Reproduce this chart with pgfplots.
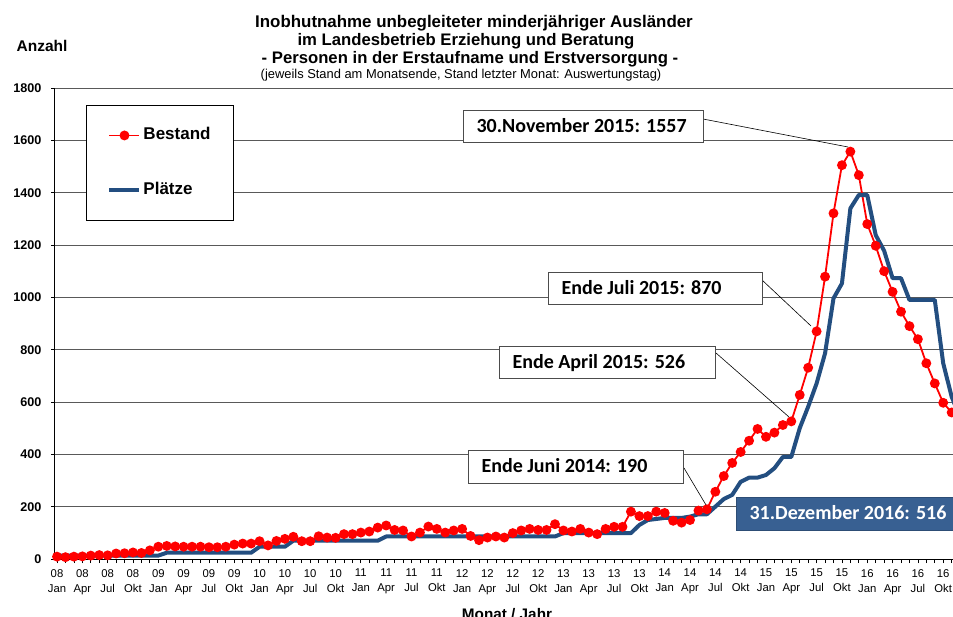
\documentclass[border=0pt]{standalone}
\usepackage{fontspec}
\setmainfont{Liberation Sans}
\newfontfamily\carlito{Carlito}
\usepackage{pgfplots}
\pgfplotsset{compat=1.18}
\usepackage{pgfplotstable}
\definecolor{plaetze}{RGB}{35,78,128}
\definecolor{boxblue}{RGB}{56,96,146}

\pgfplotstableread{
m bestand plaetze
0 9 13
1 7 13
2 9 13
3 10 13
4 13 13
5 15 13
6 14 13
7 21 13
8 22 13
9 25 13
10 23 13
11 33 13
12 47 13
13 50 24
14 48 24
15 47 24
16 47 24
17 47 24
18 45 24
19 45 24
20 47 24
21 55 24
22 59 24
23 59 24
24 68 47
25 52 47
26 69 47
27 77 47
28 85 70
29 68 70
30 68 70
31 87 70
32 82 70
33 81 70
34 95 70
35 95 70
36 101 70
37 105 70
38 120 70
39 128 86
40 111 86
41 109 86
42 86 86
43 101 86
44 124 86
45 115 86
46 101 86
47 109 86
48 115 86
49 88 86
50 72 86
51 82 86
52 86 86
53 82 86
54 99 86
55 109 86
56 115 86
57 111 86
58 111 86
59 133 86
60 109 99
61 105 99
62 115 99
63 101 99
64 95 99
65 115 99
66 123 99
67 123 99
68 181 99
69 164 130
70 164 149
71 181 153
72 176 157
73 146 157
74 139 157
75 149 162
76 185 171
77 190 171
78 257 200
79 317 229
80 367 245
81 409 295
82 452 311
83 497 311
84 467 321
85 483 347
86 512 390
87 526 390
88 627 500
89 731 582
90 870 671
91 1079 786
92 1321 996
93 1505 1053
94 1557 1340
95 1467 1391
96 1280 1391
97 1197 1238
98 1100 1178
99 1021 1073
100 945 1073
101 890 990
102 840 990
103 748 990
104 671 990
105 597 748
106 560 620
107 516 540
}\datatable

\begin{document}
\begin{tikzpicture}[x=1pt,y=1pt]
\useasboundingbox (0,0) rectangle (953,616);
\begin{axis}[
  at={(55pt,57pt)}, anchor=south west,
  scale only axis, width=898pt, height=471pt,
  xmin=-0.24, xmax=106.16, ymin=0, ymax=1800,
  axis x line=bottom, axis y line=left,
  axis line style={-, black, line width=1pt},
  xtick={0,3,...,105},
  minor xtick={0,1,...,106},
  xticklabels={{08\\Jan},{08\\Apr},{08\\Jul},{08\\Okt},
               {09\\Jan},{09\\Apr},{09\\Jul},{09\\Okt},
               {10\\Jan},{10\\Apr},{10\\Jul},{10\\Okt},
               {11\\Jan},{11\\Apr},{11\\Jul},{11\\Okt},
               {12\\Jan},{12\\Apr},{12\\Jul},{12\\Okt},
               {13\\Jan},{13\\Apr},{13\\Jul},{13\\Okt},
               {14\\Jan},{14\\Apr},{14\\Jul},{14\\Okt},
               {15\\Jan},{15\\Apr},{15\\Jul},{15\\Okt},
               {16\\Jan},{16\\Apr},{16\\Jul},{16\\Okt}},
  xticklabel style={font=\fontsize{11.3}{15}\selectfont, align=center, inner sep=1pt, yshift=-5pt},
  ytick={0,200,...,1800},
  yticklabel style={font=\bfseries\fontsize{12.6}{15}\selectfont, xshift=-6pt},
  /pgf/number format/assume math mode=true,
  /pgf/number format/1000 sep={},
  ymajorgrids,
  grid style={black!65, line width=0.9pt},
  tick align=outside,
  major tick length=4pt, minor tick length=4pt,
  tick style={black, line width=0.8pt},
  legend style={at={(0.0345,0.964)}, anchor=north west, draw=black, line width=1pt,
    font=\bfseries\fontsize{17}{20}\selectfont, row sep=35pt,
    inner xsep=21pt, inner ysep=20pt,
    nodes={inner sep=2pt, text height=12.5pt, text depth=3.5pt}},
  legend cell align=left,
  legend image code/.code={\draw[mark repeat=2,mark phase=2,#1] plot coordinates {(0pt,0pt) (15pt,0pt) (30pt,0pt)};},
]
\addplot[color=red, line width=1.8pt, mark=*, mark size=4pt, mark options={solid, fill=red, draw=red}]
  table[x=m, y=bestand]{\datatable};
\addlegendentry{Bestand}
\addplot[color=plaetze, line width=4pt, line join=round, no marks]
  table[x=m, y=plaetze]{\datatable};
\addlegendentry{Plätze}
\end{axis}

% title
\node[anchor=base, font=\bfseries\fontsize{16.9}{19}\selectfont] at (474,588) {Inobhutnahme unbegleiteter minderjähriger Ausländer};
\node[anchor=base, font=\bfseries\fontsize{16.7}{19}\selectfont] at (466,570) {im Landesbetrieb Erziehung und Beratung};
\node[anchor=base, font=\bfseries\fontsize{16.7}{19}\selectfont] at (470,552) {- Personen in der Erstaufname und Erstversorgung -};
\node[anchor=base, font=\fontsize{12.9}{15}\selectfont] at (461,537) {(jeweils Stand am Monatsende, Stand letzter Monat: Auswertungstag)};
\node[anchor=base, font=\bfseries\fontsize{15.5}{18}\selectfont] at (42,564) {Anzahl};
\node[anchor=base, font=\bfseries\fontsize{15.3}{18}\selectfont] at (507,-3) {Monat / Jahr};

% annotations
\tikzset{anno/.style={anchor=base west, font=\carlito\bfseries\fontsize{20}{24}\selectfont}}
\draw[black, line width=0.6pt] (703,497) -- (848,469);
\draw[black, line width=0.6pt] (762,336) -- (811,290);
\draw[black, line width=0.6pt] (716,263) -- (789,199);
\draw[black, line width=0.6pt] (684,148) -- (706,111);

\draw[black!70, line width=0.9pt, fill=white] (463,474) rectangle (703,506);
\node[anno] at (473,483.6) {30.November 2015: 1557};
\draw[black!70, line width=0.9pt, fill=white] (548,312) rectangle (762,344);
\node[anno] at (558,321.6) {Ende Juli 2015: 870};
\draw[black!70, line width=0.9pt, fill=white] (499,238) rectangle (715,270);
\node[anno] at (509,247.6) {Ende April 2015: 526};
\draw[black!70, line width=0.9pt, fill=white] (468,133) rectangle (683,166);
\node[anno] at (478,143.1) {Ende Juni 2014: 190};
\draw[boxblue!80!black, line width=0.9pt, fill=boxblue] (736,86) rectangle (965,119);
\node[anno, text=white] at (746,96.1) {31.Dezember 2016: 516};
\end{tikzpicture}
\end{document}
